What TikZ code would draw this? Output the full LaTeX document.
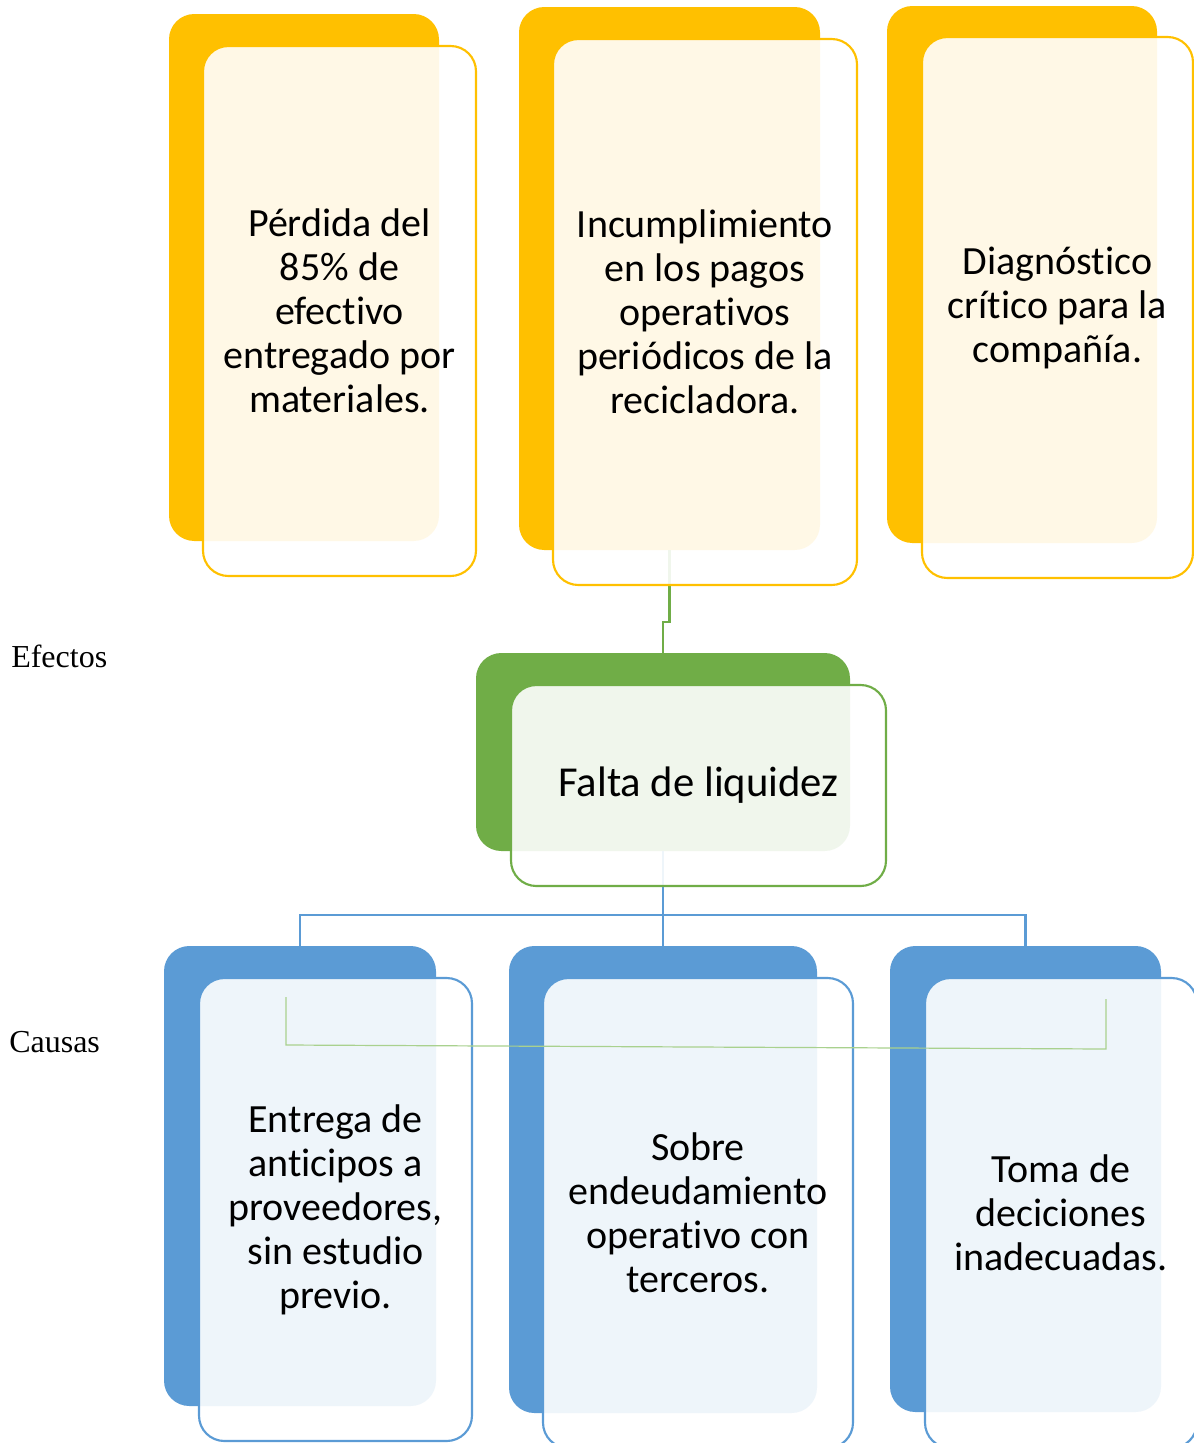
\documentclass[tikz,border=0pt]{standalone}
\usepackage{fontspec}
\setmainfont{Carlito}[Ligatures=NoCommon]
\newfontfamily\tnr{Liberation Serif}
\definecolor{cO}{HTML}{FFC000}
\definecolor{cG}{HTML}{70AD47}
\definecolor{cB}{HTML}{5B9BD5}
\definecolor{cL}{HTML}{A9D18E}
\begin{document}
\begin{tikzpicture}[x=0.75pt,y=-0.75pt,
  back/.style={rectangle, rounded corners=19pt, inner sep=0pt},
  front/.style={rectangle, rounded corners=19pt, inner sep=0pt, fill=white, fill opacity=0.9, text opacity=1, line width=1.6pt, align=center, font=\fontsize{30}{33}\selectfont},
  backO/.style={back, fill=cO}, frontO/.style={front, draw=cO},
  backG/.style={back, fill=cG}, frontG/.style={front, draw=cG},
  backB/.style={back, fill=cB}, frontB/.style={front, draw=cB},
  side/.style={font=\tnr\fontsize{24}{26}\selectfont, anchor=base west, inner sep=0pt},
  conG/.style={draw=cG, line width=1.8pt},
  conB/.style={draw=cB, line width=1.8pt},
  thin/.style={draw=cL, line width=0.9pt}]
\clip (0,0) rectangle (1194,1443);
% coordinates for layout
\coordinate (j) at (666,622);
\coordinate (h) at (663,915);
% back boxes
\node[backO, minimum width=270*0.75pt, minimum height=527*0.75pt] (b1) at (304,277.5) {};
\node[backO, minimum width=301*0.75pt, minimum height=543*0.75pt] (b2) at (669.5,278.5) {};
\node[backO, minimum width=270*0.75pt, minimum height=537*0.75pt] (b3) at (1022,274.5) {};
\node[backG, minimum width=374*0.75pt, minimum height=198*0.75pt] (b4) at (663,752) {};
\node[backB, minimum width=272*0.75pt, minimum height=460*0.75pt] (b5) at (300,1176) {};
\node[backB, minimum width=308*0.75pt, minimum height=467*0.75pt] (b6) at (663,1179.5) {};
\node[backB, minimum width=271*0.75pt, minimum height=466*0.75pt] (b7) at (1025.5,1179) {};
% connectors (under the front boxes)
\draw[conG] (b2.south) |- (j) -| (b4.north);
\draw[conB] (b4.south) -- (h);
\draw[conB] (b5.north) |- (h) -| (b7.north);
\draw[conB] (h) -- (b6.north);
% front boxes
\node[frontO, minimum width=273*0.75pt, minimum height=530*0.75pt] (f1) at (339.5,311) {Pérdida del\\85\% de\\efectivo\\entregado por\\materiales.};
\node[frontO, minimum width=304*0.75pt, minimum height=546*0.75pt] (f2) at (705,312) {Incumplimiento\\en los pagos\\operativos\\periódicos de la\\recicladora.};
\node[frontO, minimum width=271*0.75pt, minimum height=541*0.75pt] (f3) at (1057.5,307.5) {Diagnóstico\\crítico para la\\compañía.};
\node[frontG, minimum width=375*0.75pt, minimum height=201*0.75pt, font=\fontsize{32}{35}\selectfont] (f4) at (698.5,785.5) {Falta de liquidez};
\node[frontB, minimum width=273*0.75pt, minimum height=463*0.75pt] (f5) at (335.5,1209.5) {Entrega de\\anticipos a\\proveedores,\\sin estudio\\previo.};
\node[frontB, minimum width=310*0.75pt, minimum height=470*0.75pt] (f6) at (698,1213) {Sobre\\endeudamiento\\operativo con\\terceros.};
\node[frontB, minimum width=272*0.75pt, minimum height=470*0.75pt] (f7) at (1061,1213) {Toma de\\deciciones\\inadecuadas.};
% thin green bracket
\coordinate (g1) at (286,997);
\coordinate (g2) at (286,1045);
\coordinate (g3) at (1106,1049);
\coordinate (g4) at (1106,999);
\draw[thin] (g1) -- (g2) -- (g3) -- (g4);
% side labels
\node[side] (efectos) at (11,667) {Efectos};
\node[side] (causas) at (9,1052) {Causas};
\end{tikzpicture}
\end{document}
